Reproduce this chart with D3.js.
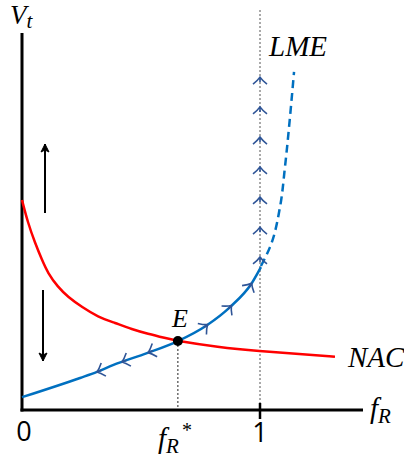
<!DOCTYPE html>
<html>
<head>
<meta charset="utf-8">
<script src="https://cdn.jsdelivr.net/npm/d3@7"></script>
<style>
  body { margin: 0; background: #fff; }
  .math { font-family: "Liberation Serif", serif; font-style: italic; }
  .num { font-family: "Open Sans", sans-serif; }
</style>
</head>
<body>
<div id="chart"></div>
<script>
// NAC curve (red)
var nacX = [0, 0.025, 0.055, 0.084, 0.109, 0.151, 0.193, 0.252, 0.319, 0.391, 0.462, 0.529, 0.601, 0.655, 0.819, 1.0, 1.168, 1.315];
var nacY = [5.57, 4.96, 4.43, 3.98, 3.63, 3.26, 3.0, 2.73, 2.47, 2.31, 2.14, 2.02, 1.91, 1.83, 1.67, 1.56, 1.49, 1.41];
// LME curve, solid part
var lmeX = [0, 0.244, 0.315, 0.382, 0.525, 0.655, 0.777, 0.874, 0.966, 1.004];
var lmeY = [0.34, 0.85, 1.01, 1.19, 1.51, 1.83, 2.25, 2.73, 3.37, 3.79];
// LME curve, dashed part
var lmeDashX = [1.004, 1.042, 1.084, 1.105, 1.126, 1.143];
var lmeDashY = [3.82, 4.32, 5.38, 6.45, 7.77, 8.97];
// direction chevrons
var arrowsDown = [0.315, 0.42, 0.53];
var arrowsUp = [0.78, 0.88, 0.965];
var arrowsVert = [8.83, 8.04, 7.24, 6.45, 5.65, 4.85, 4.06];
var fStar = 0.655;
var eqY = 1.83;

var W = 404, H = 457;
var svg = d3.select("#chart").append("svg").attr("width", W).attr("height", H);

var x = d3.scaleLinear().domain([0, 1]).range([22, 260]);
var y = d3.scaleLinear().domain([0, 10]).range([410, 33]);

var line = d3.line().x(function(d){ return x(d[0]); }).y(function(d){ return y(d[1]); }).curve(d3.curveMonotoneX);
var lineSmooth = d3.line().x(function(d){ return x(d[0]); }).y(function(d){ return y(d[1]); }).curve(d3.curveBasis);
var lineY = d3.line().x(function(d){ return x(d[0]); }).y(function(d){ return y(d[1]); }).curve(d3.curveMonotoneY);

function zip(a, b) { return a.map(function(v, i){ return [v, b[i]]; }); }

// dotted guides
svg.append("line").attr("x1", x(1)).attr("x2", x(1)).attr("y1", 10).attr("y2", y(0))
  .attr("stroke", "#555").attr("stroke-width", 1).attr("stroke-dasharray", "2,2");
svg.append("line").attr("x1", x(fStar)).attr("x2", x(fStar)).attr("y1", y(eqY)).attr("y2", y(0))
  .attr("stroke", "#222").attr("stroke-width", 1).attr("stroke-dasharray", "2,2");

// axes
svg.append("line").attr("x1", x(0)).attr("x2", x(0)).attr("y1", 33).attr("y2", y(0) + 1.5)
  .attr("stroke", "#000").attr("stroke-width", 3);
svg.append("line").attr("x1", x(0) - 1.5).attr("x2", 363).attr("y1", y(0)).attr("y2", y(0))
  .attr("stroke", "#000").attr("stroke-width", 3);
svg.append("line").attr("x1", x(1)).attr("x2", x(1)).attr("y1", y(0) - 7).attr("y2", y(0) + 9)
  .attr("stroke", "#000").attr("stroke-width", 2.5);

// curves
svg.append("path").attr("d", lineSmooth(zip(nacX, nacY))).attr("fill", "none")
  .attr("stroke", "#ff0000").attr("stroke-width", 2.5);
svg.append("path").attr("d", line(zip(lmeX, lmeY))).attr("fill", "none")
  .attr("stroke", "#0070c0").attr("stroke-width", 2.5);
svg.append("path").attr("d", lineY(zip(lmeDashX, lmeDashY))).attr("fill", "none")
  .attr("stroke", "#0070c0").attr("stroke-width", 2.5).attr("stroke-dasharray", "8,5");

// chevrons
var chev = "M0,0 L0,5 M-7,7 Q-2,3 0,0 Q2,3 7,7";
var lmeInterp = d3.scaleLinear().domain(lmeX).range(lmeY);
function chevAt(xv, dir) {
  var px = x(xv), py = y(lmeInterp(xv));
  var dx = x(xv + 0.01 * dir) - px, dy = y(lmeInterp(xv + 0.01 * dir)) - py;
  var ang = Math.atan2(dy, dx) * 180 / Math.PI + 90;
  svg.append("path").attr("d", chev).attr("fill", "none").attr("stroke", "#2f5597")
    .attr("stroke-width", 1.6).attr("transform", "translate(" + px + "," + py + ") rotate(" + ang + ")");
}
arrowsDown.forEach(function(v){ chevAt(v, -1); });
arrowsUp.forEach(function(v){ chevAt(v, 1); });
arrowsVert.forEach(function(v){
  svg.append("path").attr("d", chev).attr("fill", "none").attr("stroke", "#2f5597")
    .attr("stroke-width", 1.6).attr("transform", "translate(" + x(1) + "," + y(v) + ")");
});

// black vertical arrows
function arrow(xp, y1, y2) {
  svg.append("line").attr("x1", xp).attr("x2", xp).attr("y1", y1).attr("y2", y2)
    .attr("stroke", "#000").attr("stroke-width", 2);
  var s = y2 < y1 ? -1 : 1;
  svg.append("path").attr("d", "M" + (xp - 4) + "," + (y2 - s * 8) + " L" + xp + "," + y2 + " L" + (xp + 4) + "," + (y2 - s * 8) + " L" + xp + "," + (y2 - s * 6) + "Z")
    .attr("fill", "#000").attr("stroke", "#000").attr("stroke-width", 1);
}
arrow(45, 213, 144);
arrow(43, 290, 361);

// equilibrium point
svg.append("circle").attr("cx", x(fStar)).attr("cy", y(eqY)).attr("r", 5).attr("fill", "#000");

// labels
var vt = svg.append("text").attr("class", "math").attr("x", 10).attr("y", 24).attr("font-size", 27);
vt.append("tspan").text("V");
vt.append("tspan").attr("font-size", 21).attr("dy", 4).text("t");

svg.append("text").attr("class", "math").attr("x", 269).attr("y", 56).attr("font-size", 29).text("LME");
svg.append("text").attr("class", "math").attr("x", 348).attr("y", 367).attr("font-size", 29).text("NAC");
svg.append("text").attr("class", "math").attr("x", 172).attr("y", 327).attr("font-size", 26).text("E");

var fr = svg.append("text").attr("class", "math").attr("x", 370).attr("y", 418).attr("font-size", 29);
fr.append("tspan").text("f");
fr.append("tspan").attr("font-size", 21).attr("dy", 5).text("R");

var fs = svg.append("text").attr("class", "math").attr("x", 158).attr("y", 448).attr("font-size", 29);
fs.append("tspan").text("f");
fs.append("tspan").attr("font-size", 21).attr("dy", 5).text("R");
fs.append("tspan").attr("font-size", 20).attr("dx", 3).attr("dy", -16).attr("font-style", "normal").text("*");

svg.append("text").attr("class", "num").attr("x", x(0) + 2).attr("y", 441).attr("text-anchor", "middle").attr("font-size", 27).text("0");
svg.append("text").attr("class", "num").attr("x", x(1)).attr("y", 442).attr("text-anchor", "middle").attr("font-size", 27).text("1");
</script>
</body>
</html>
